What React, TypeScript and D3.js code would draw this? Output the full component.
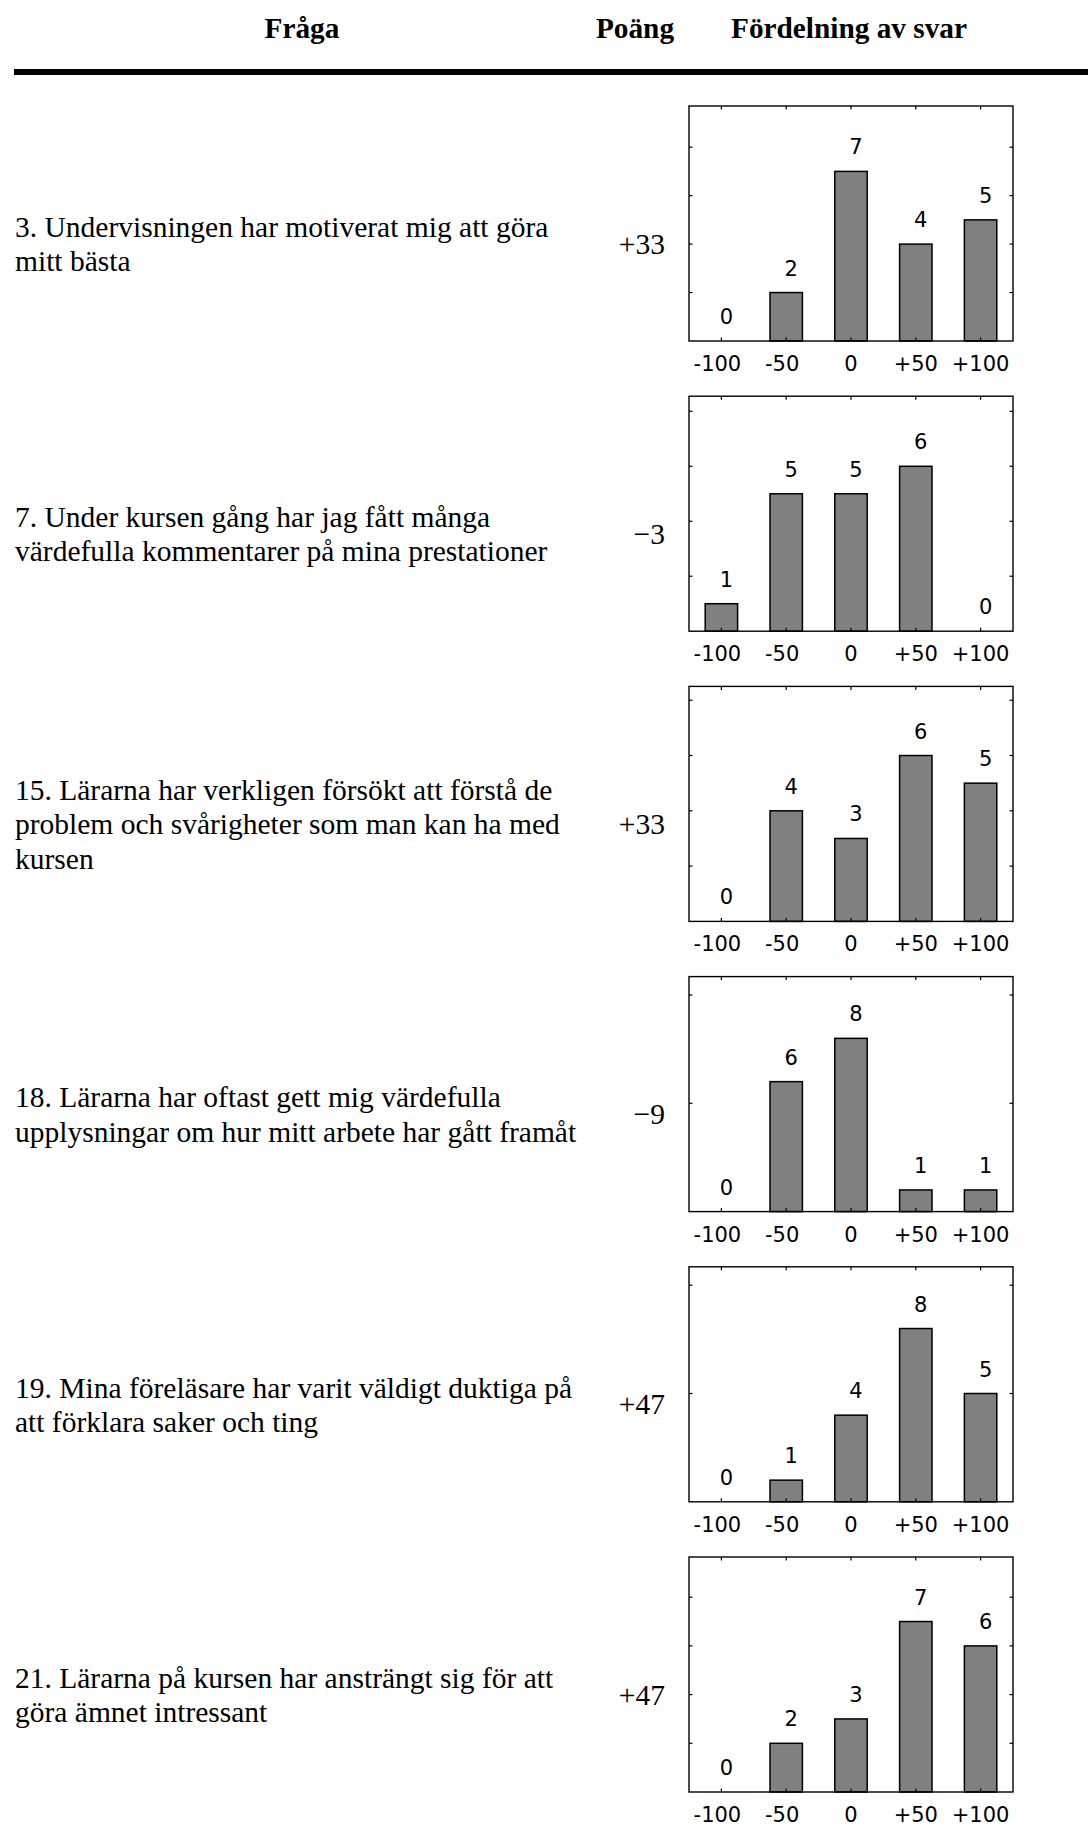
import React, { useEffect } from "react";
import * as d3 from "d3";

const headers = ["Fråga", "Poäng", "Fördelning av svar"];
const categories = ["-100", "-50", "0", "+50", "+100"];
const questionLines = [
  ["3. Undervisningen har motiverat mig att göra", "mitt bästa"],
  ["7. Under kursen gång har jag fått många", "värdefulla kommentarer på mina prestationer"],
  ["15. Lärarna har verkligen försökt att förstå de", "problem och svårigheter som man kan ha med", "kursen"],
  ["18. Lärarna har oftast gett mig värdefulla", "upplysningar om hur mitt arbete har gått framåt"],
  ["19. Mina föreläsare har varit väldigt duktiga på", "att förklara saker och ting"],
  ["21. Lärarna på kursen har ansträngt sig för att", "göra ämnet intressant"],
];
const scores = ["+33", "\u22123", "+33", "\u22129", "+47", "+47"];
const counts = [
  [0, 2, 7, 4, 5],
  [1, 5, 5, 6, 0],
  [0, 4, 3, 6, 5],
  [0, 6, 8, 1, 1],
  [0, 1, 4, 8, 5],
  [0, 2, 3, 7, 6],
];
const yMax = [9.7, 8.55, 8.5, 10.85, 10.85, 9.65];
const yTickStep = [2, 2, 2, 5, 5, 2];

const W = 1088;
const H = 1830;
const SERIF = "'Liberation Serif', 'Times New Roman', serif";
const SANS = "'DejaVu Sans', sans-serif";

const BOX_L = 689;
const BOX_R = 1013;
const BOX_H = 235;
const ROW_PITCH = 290.2;
const FIRST_TOP = 106;
const ROW_CENTER0 = 244;
const Q_FONT = 29.5;
const LINE_H = 34.5;
const SCORE_BASE0 = 253.5;

function Chart({ idx }: { idx: number }) {
  const top = FIRST_TOP + idx * ROW_PITCH;
  const bottom = top + BOX_H;
  const x = d3
    .scaleBand<string>()
    .domain(categories)
    .range([BOX_L, BOX_R])
    .paddingInner(0.5)
    .paddingOuter(0.25);
  const y = d3.scaleLinear().domain([0, yMax[idx]]).range([bottom, top]);
  const step = yTickStep[idx];
  const yTicks = d3.range(step, yMax[idx], step);
  const data = counts[idx];
  const tl = 3.5;
  return (
    <g>
      {data.map((v, i) => {
        const c = categories[i];
        const bx = x(c) as number;
        return v > 0 ? (
          <rect
            key={"b" + i}
            x={bx}
            y={y(v)}
            width={x.bandwidth()}
            height={bottom - y(v)}
            fill="#808080"
            stroke="#000"
            strokeWidth={1.5}
          />
        ) : null;
      })}
      <rect x={BOX_L} y={top} width={BOX_R - BOX_L} height={BOX_H} fill="none" stroke="#000" strokeWidth={1.4} />
      {categories.map((c) => {
        const cx = (x(c) as number) + x.bandwidth() / 2;
        return (
          <g key={"xt" + c}>
            <line x1={cx} x2={cx} y1={top} y2={top + tl} stroke="#000" strokeWidth={1.2} />
            <line x1={cx} x2={cx} y1={bottom} y2={bottom - tl} stroke="#000" strokeWidth={1.2} />
          </g>
        );
      })}
      {yTicks.map((t) => (
        <g key={"yt" + t}>
          <line x1={BOX_L} x2={BOX_L + tl} y1={y(t)} y2={y(t)} stroke="#000" strokeWidth={1.2} />
          <line x1={BOX_R} x2={BOX_R - tl} y1={y(t)} y2={y(t)} stroke="#000" strokeWidth={1.2} />
        </g>
      ))}
      {data.map((v, i) => {
        const cx = (x(categories[i]) as number) + x.bandwidth() / 2;
        return (
          <text
            key={"v" + i}
            x={cx + 5}
            y={y(v) - 17}
            textAnchor="middle"
            fontFamily={SANS}
            fontSize={21}
            fill="#000"
          >
            {v}
          </text>
        );
      })}
      {categories.map((c) => {
        const cx = (x(c) as number) + x.bandwidth() / 2;
        const shift = c.startsWith("-") ? -4 : 0;
        return (
          <text
            key={"tl" + c}
            x={cx + shift}
            y={bottom + 30}
            textAnchor="middle"
            fontFamily={SANS}
            fontSize={21}
            fill="#000"
          >
            {c}
          </text>
        );
      })}
    </g>
  );
}

export default function App() {
  useEffect(() => {
    document.body.style.margin = "0";
  }, []);
  return (
    <svg width={W} height={H} viewBox={`0 0 ${W} ${H}`} style={{ display: "block", background: "#fff" }}>
      <rect x={0} y={0} width={W} height={H} fill="#fff" />
      <text x={302} y={37.5} textAnchor="middle" fontFamily={SERIF} fontWeight="bold" fontSize={29.3}>
        {headers[0]}
      </text>
      <text x={635} y={37.5} textAnchor="middle" fontFamily={SERIF} fontWeight="bold" fontSize={29.3}>
        {headers[1]}
      </text>
      <text x={849} y={37.5} textAnchor="middle" fontFamily={SERIF} fontWeight="bold" fontSize={29.3}>
        {headers[2]}
      </text>
      <rect x={14} y={69} width={W - 14} height={6} fill="#000" />
      {questionLines.map((lines, i) => {
        const rc = ROW_CENTER0 + i * ROW_PITCH;
        const first = rc - ((lines.length - 1) * LINE_H) / 2 + 10;
        return (
          <g key={"q" + i}>
            {lines.map((ln, j) => (
              <text key={j} x={15} y={first + j * LINE_H} fontFamily={SERIF} fontSize={Q_FONT} fill="#000">
                {ln}
              </text>
            ))}
            <text
              x={665}
              y={SCORE_BASE0 + i * ROW_PITCH}
              textAnchor="end"
              fontFamily={SERIF}
              fontSize={Q_FONT}
              fill="#000"
            >
              {scores[i]}
            </text>
            <Chart idx={i} />
          </g>
        );
      })}
    </svg>
  );
}
